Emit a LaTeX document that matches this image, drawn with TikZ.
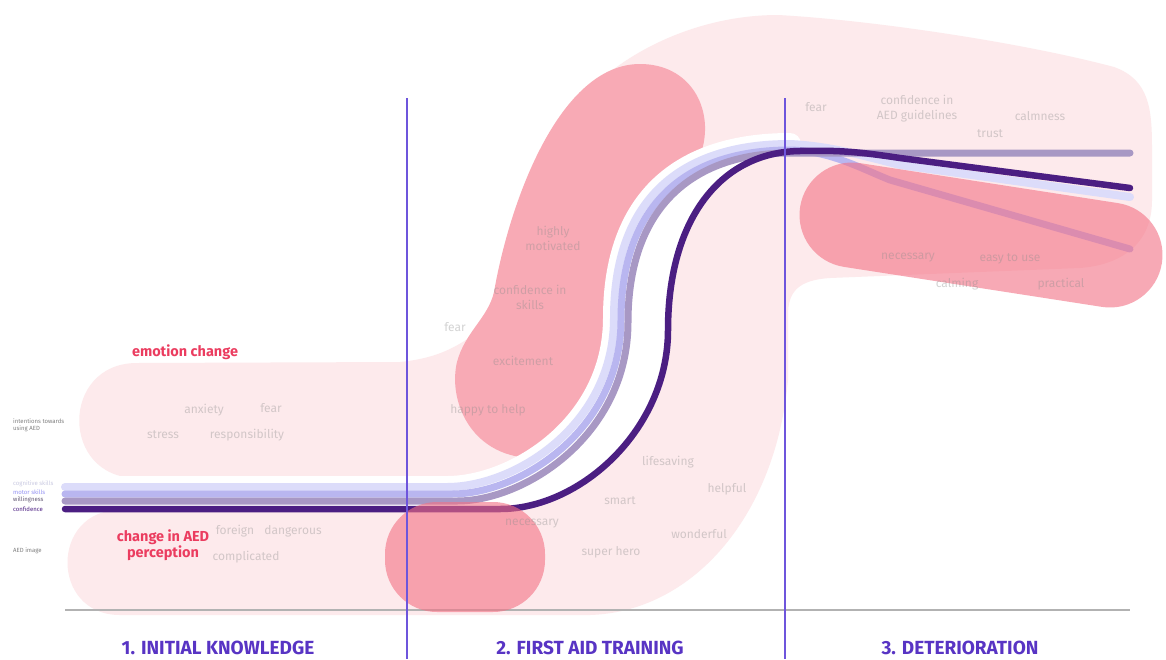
\documentclass[tikz,border=0pt]{standalone}
\usepackage{fontspec}
\setmainfont{Fira Sans}
\usepackage{tikz}
\usetikzlibrary{positioning}
\definecolor{blush}{RGB}{253,234,236}
\definecolor{rose}{RGB}{243,113,132}
\definecolor{roseflat}{RGB}{248,170,181}
\definecolor{cogline}{RGB}{220,220,250}
\definecolor{motline}{RGB}{185,182,240}
\definecolor{willine}{RGB}{168,152,196}
\definecolor{conline}{RGB}{75,30,130}
\definecolor{phaseline}{RGB}{110,85,220}
\definecolor{phaseblue}{RGB}{88,52,196}
\definecolor{emored}{RGB}{235,60,95}
\definecolor{wordgray}{RGB}{140,140,140}

\begin{document}
\begin{tikzpicture}[x=1pt,y=-1pt,
    word/.style={text=wordgray, text opacity=0.38, font=\fontsize{12}{15}\selectfont, inner sep=0pt, align=center},
    legend/.style={font=\fontsize{6}{7}\selectfont, inner sep=0pt, anchor=west, align=left},
    phase/.style={text=phaseblue, font=\fontsize{19}{21}\selectfont\bfseries, inner sep=0pt},
    theme/.style={text=emored, font=\fontsize{14.5}{16}\selectfont\bfseries, inner sep=0pt, align=center},
    trend/.style={line width=7pt, line cap=round}]
    \useasboundingbox (0,0) rectangle (1166,659);
    \fill[white] (0,0) rectangle (1166,659);

    % light pink zones
    \fill[blush] (137,363) -- (400,362) .. controls (440,358) and (460,345) .. (480,330) -- (520,478) -- (137,478) .. controls (60,478) and (60,363) .. (137,363) -- cycle;
    \fill[blush] (480,340) -- (560,130) .. controls (590,70) and (680,15) .. (778,15) .. controls (870,20) and (1020,42) .. (1114,67) .. controls (1150,80) and (1152,110) .. (1152,150) -- (1152,200) .. controls (1152,245) and (1120,265) .. (1080,268) -- (830,278) .. controls (798,280) and (788,292) .. (788,315) -- (788,380) .. controls (775,520) and (690,612) .. (590,615) -- (120,615) .. controls (50,615) and (50,510) .. (120,510) -- (520,510) -- cycle;

    % training blob
    \fill[roseflat] (640,64) .. controls (690,64) and (714,108) .. (702,150) -- (600,425) .. controls (585,455) and (555,460) .. (530,458) .. controls (470,455) and (448,400) .. (457,362) .. controls (465,332) and (488,318) .. (494,292) .. controls (510,200) and (560,64) .. (640,64) -- cycle;

    % white band behind the curves
    \draw[white, line width=22pt, line cap=round] (65,487) -- (447,487) .. controls (515,487) and (614,425) .. (614,318) .. controls (614,200) and (680,144) .. (790,144);
    \fill[white] (65,487) -- (447,487) .. controls (515,487) and (614,425) .. (614,318) .. controls (614,200) and (680,144) .. (790,144) -- (800,151) .. controls (720,152) and (668,220) .. (668,330) .. controls (668,430) and (580,509) .. (500,509) -- (65,509) -- cycle;

    \draw[gray!60, line width=1.2pt] (65,610) -- (1130,610);

    % trend curves
    \draw[trend, cogline, line width=8pt] (65,487) -- (447,487) .. controls (515,487) and (614,425) .. (614,318) .. controls (614,200) and (680,144) .. (790,144) .. controls (830,146) and (860,155) .. (900,165) -- (1130,197);
    \draw[trend, motline] (65,494) -- (452,494) .. controls (520,494) and (621,430) .. (621,320) .. controls (621,205) and (685,150) .. (790,150) .. controls (830,151) and (860,168) .. (890,180) -- (1130,249);
    \draw[trend, willine] (65,501) -- (457,501) .. controls (525,501) and (628,435) .. (628,322) .. controls (628,210) and (690,153) .. (790,153) -- (1130,153);
    \draw[trend, conline, line width=6.5pt] (65,509) -- (500,509) .. controls (580,509) and (668,430) .. (668,330) .. controls (668,220) and (720,152) .. (800,151) .. controls (840,150) and (860,152) .. (900,158) -- (1130,188);

    % AED blobs
    \fill[rose, opacity=0.6, rounded corners=52pt] (385,502) rectangle (545,612);
    \draw[rose, opacity=0.6, line width=105pt, line cap=round] (852,215) -- (1110,255);

    % phase lines
    \draw[phaseline, line width=1.3pt] (407,98) -- (407,659);
    \draw[phaseline, line width=1.3pt] (785,98) -- (785,659);

    % legend
    \node[legend, text=gray] (lg-int) at (13,425) {intentions towards\\using AED};
    \node[legend, text=cogline!80!gray] (lg-cog) at (13,484) {cognitive skills};
    \node[legend, text=motline!80!blue] (lg-mot) at (13,492) {motor skills};
    \node[legend, text=willine!60!black] (lg-wil) at (13,500) {willingness};
    \node[legend, text=conline] (lg-con) at (13,509) {confidence};
    \node[legend, text=gray] (lg-img) at (13,551) {AED image};

    % words
    \node[word] (w-anxiety) at (204,410) {anxiety};
    \node[word] (w-fear1) at (271,408) {fear};
    \node[word] (w-stress) at (163,435) {stress};
    \node[word] (w-resp) at (247,435) {responsibility};
    \node[word] (w-foreign) at (235,531) {foreign};
    \node[word] (w-danger) at (293,531) {dangerous};
    \node[word] (w-compl) at (246,557) {complicated};
    \node[word] (w-motiv) at (553,238) {highly\\motivated};
    \node[word] (w-skills) at (530,297) {confidence in\\skills};
    \node[word] (w-fear2) at (455,327) {fear};
    \node[word] (w-excite) at (523,361) {excitement};
    \node[word] (w-happy) at (488,410) {happy to help};
    \node[word] (w-life) at (668,462) {lifesaving};
    \node[word] (w-helpful) at (727,489) {helpful};
    \node[word] (w-smart) at (620,501) {smart};
    \node[word] (w-nec1) at (532,524) {necessary};
    \node[word] (w-wonder) at (699,534) {wonderful};
    \node[word] (w-hero) at (611,552) {super hero};
    \node[word] (w-fear3) at (816,107) {fear};
    \node[word] (w-guide) at (917,109) {confidence in\\AED guidelines};
    \node[word] (w-trust) at (990,134) {trust};
    \node[word] (w-calm) at (1040,116) {calmness};
    \node[word] (w-nec2) at (908,258) {necessary};
    \node[word] (w-easy) at (1010,259) {easy to use};
    \node[word] (w-calming) at (957,284) {calming};
    \node[word] (w-pract) at (1061,284) {practical};

    % themes
    \node[theme] (emotion) at (185,352) {emotion change};
    \node[theme] (aed) at (163,545) {change in AED\\perception};

    % phases
    \node[phase] (ph-1) at (218,648) {1. INITIAL KNOWLEDGE};
    \node[phase] (ph-2) at (590,648) {2. FIRST AID TRAINING};
    \node[phase] (ph-3) at (960,648) {3. DETERIORATION};
\end{tikzpicture}
\end{document}
